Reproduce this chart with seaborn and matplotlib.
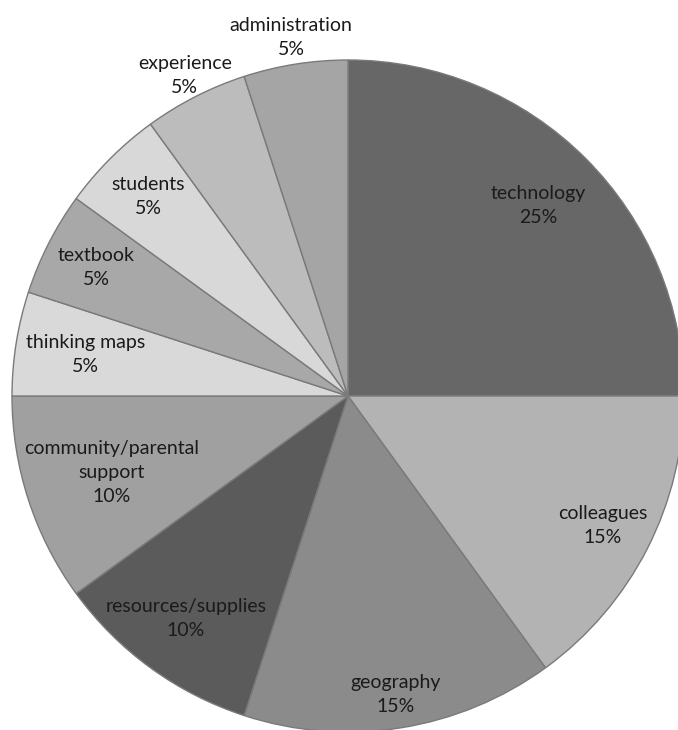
"""
Pie chart: sources of support (grayscale), recreated with seaborn + matplotlib.
"""

import matplotlib
matplotlib.use("Agg")
import matplotlib.pyplot as plt
import seaborn as sns
import numpy as np

# ── Data ──────────────────────────────────────────────────────────────────────

CATEGORIES = ["technology", "colleagues", "geography", "resources/supplies",
              "community/parental\nsupport", "thinking maps", "textbook",
              "students", "experience", "administration"]
PERCENTS = [25, 15, 15, 10, 10, 5, 5, 5, 5, 5]

# ── Style ─────────────────────────────────────────────────────────────────────

sns.set_theme(style="white")
plt.rcParams["font.family"] = ["Lato", "DejaVu Sans"]

GRAYS = ["#676767", "#b3b3b3", "#8b8b8b", "#5b5b5b", "#a0a0a0",
         "#d9d9d9", "#a8a8a8", "#d8d8d8", "#bcbcbc", "#a5a5a5"]
LABEL_R = [0.80, 0.85, 0.90, 0.82, 0.74, 0.79, 0.84, 0.84, 1.07, 1.08]

W, H = 678, 730
CX, CY, R = 348, 396, 336   # pie centre / radius in pixels


def main():
    fig = plt.figure(figsize=(W / 100, H / 100), dpi=100)
    ax = fig.add_axes([0, 0, 1, 1])

    wedges, _ = ax.pie(
        PERCENTS, colors=GRAYS, startangle=90, counterclock=False,
        radius=1.0, wedgeprops={"edgecolor": "#7a7a7a", "linewidth": 1.0},
    )

    for w, cat, pct, r in zip(wedges, CATEGORIES, PERCENTS, LABEL_R):
        mid = np.deg2rad((w.theta1 + w.theta2) / 2)
        ax.text(r * np.cos(mid), r * np.sin(mid), f"{cat}\n{pct}%",
                ha="center", va="center", fontsize=14, color="#1a1a1a",
                linespacing=1.5)

    ax.set_xlim(-CX / R, (W - CX) / R)
    ax.set_ylim(-(H - CY) / R, CY / R)
    ax.set_aspect("equal")
    ax.axis("off")

    fig.savefig("out.png", dpi=100, facecolor="white")
    plt.close(fig)


if __name__ == "__main__":
    main()
